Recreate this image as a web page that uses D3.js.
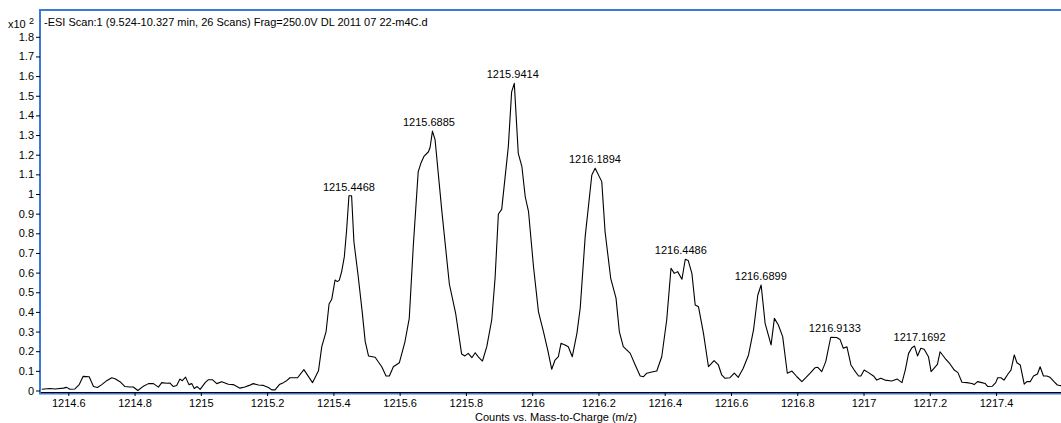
<!DOCTYPE html>
<html>
<head>
<meta charset="utf-8">
<script src="https://cdn.jsdelivr.net/npm/d3@7"></script>
<style>
  body { margin: 0; background: #fff; }
  text { font-family: "Liberation Sans", Arial, sans-serif; }
</style>
</head>
<body>
<script>
let w = 1061;
let h = 423;

// spectrum profile: m/z and counts (x10^2)
let mz = [1214.520,1214.545,1214.560,1214.585,1214.595,1214.605,1214.620,1214.633,1214.645,1214.663,
  1214.676,1214.688,1214.701,1214.716,1214.731,1214.741,1214.756,1214.771,1214.786,1214.796,
  1214.810,1214.825,1214.842,1214.857,1214.872,1214.882,1214.897,1214.907,1214.917,1214.927,
  1214.937,1214.944,1214.954,1214.964,1214.973,1214.980,1214.989,1214.998,1215.013,1215.023,
  1215.035,1215.048,1215.063,1215.083,1215.098,1215.118,1215.133,1215.146,1215.158,1215.174,
  1215.189,1215.204,1215.214,1215.224,1215.237,1215.249,1215.259,1215.269,1215.292,1215.311,
  1215.337,1215.355,1215.365,1215.378,1215.387,1215.395,1215.405,1215.412,1215.418,1215.425,
  1215.433,1215.440,1215.447,1215.455,1215.462,1215.475,1215.487,1215.496,1215.506,1215.526,
  1215.546,1215.559,1215.569,1215.581,1215.599,1215.616,1215.629,1215.641,1215.656,1215.664,
  1215.674,1215.687,1215.692,1215.699,1215.707,1215.727,1215.750,1215.769,1215.787,1215.797,
  1215.807,1215.818,1215.828,1215.838,1215.850,1215.863,1215.878,1215.888,1215.898,1215.908,
  1215.928,1215.938,1215.946,1215.958,1215.969,1215.979,1215.989,1216.004,1216.019,1216.034,
  1216.047,1216.059,1216.069,1216.079,1216.087,1216.099,1216.109,1216.121,1216.135,1216.145,
  1216.160,1216.180,1216.190,1216.210,1216.220,1216.237,1216.253,1216.263,1216.275,1216.296,
  1216.311,1216.326,1216.336,1216.346,1216.361,1216.376,1216.391,1216.406,1216.419,1216.429,
  1216.439,1216.452,1216.462,1216.471,1216.482,1216.492,1216.502,1216.517,1216.532,1216.549,
  1216.562,1216.572,1216.582,1216.597,1216.610,1216.622,1216.637,1216.653,1216.668,1216.681,
  1216.691,1216.703,1216.721,1216.731,1216.743,1216.756,1216.770,1216.784,1216.799,1216.814,
  1216.826,1216.839,1216.854,1216.862,1216.874,1216.886,1216.901,1216.919,1216.929,1216.939,
  1216.950,1216.962,1216.972,1216.985,1216.992,1217.002,1217.015,1217.030,1217.040,1217.052,
  1217.065,1217.085,1217.102,1217.116,1217.126,1217.136,1217.146,1217.154,1217.163,1217.173,
  1217.183,1217.196,1217.204,1217.223,1217.231,1217.246,1217.261,1217.274,1217.285,1217.297,
  1217.312,1217.327,1217.334,1217.344,1217.357,1217.367,1217.375,1217.389,1217.399,1217.405,
  1217.415,1217.424,1217.436,1217.445,1217.455,1217.463,1217.473,1217.485,1217.493,1217.503,
  1217.513,1217.525,1217.533,1217.543,1217.553,1217.563,1217.575,1217.585,1217.593,1217.602];

let counts = [0.006,0.010,0.008,0.012,0.016,0.006,0.008,0.030,0.072,0.070,
  0.020,0.015,0.030,0.050,0.065,0.060,0.045,0.020,0.018,0.018,
  0.000,0.020,0.035,0.035,0.017,0.040,0.037,0.038,0.020,0.025,
  0.058,0.050,0.068,0.030,0.035,0.010,0.020,0.006,0.040,0.055,
  0.055,0.035,0.045,0.032,0.030,0.012,0.018,0.026,0.035,0.028,
  0.026,0.015,0.003,0.003,0.030,0.040,0.050,0.065,0.065,0.106,
  0.040,0.100,0.223,0.300,0.440,0.464,0.562,0.554,0.562,0.605,
  0.680,0.817,0.991,0.991,0.757,0.580,0.400,0.250,0.176,0.169,
  0.121,0.074,0.074,0.121,0.141,0.248,0.367,0.730,1.113,1.156,
  1.193,1.215,1.238,1.320,1.275,0.919,0.542,0.393,0.186,0.176,
  0.189,0.167,0.192,0.170,0.150,0.223,0.360,0.571,0.898,0.922,
  1.241,1.520,1.563,1.207,1.139,0.986,0.910,0.630,0.400,0.300,
  0.206,0.108,0.155,0.172,0.240,0.232,0.223,0.172,0.291,0.420,
  0.783,1.097,1.131,1.063,0.808,0.571,0.470,0.300,0.223,0.189,
  0.130,0.074,0.070,0.088,0.094,0.099,0.172,0.359,0.622,0.596,
  0.605,0.566,0.668,0.661,0.596,0.435,0.426,0.291,0.121,0.152,
  0.130,0.079,0.062,0.065,0.088,0.067,0.113,0.181,0.308,0.486,
  0.537,0.342,0.232,0.367,0.333,0.274,0.088,0.099,0.070,0.045,
  0.065,0.088,0.116,0.118,0.096,0.147,0.271,0.270,0.260,0.215,
  0.222,0.130,0.104,0.074,0.074,0.104,0.091,0.074,0.053,0.062,
  0.053,0.048,0.058,0.040,0.104,0.189,0.218,0.226,0.176,0.215,
  0.210,0.172,0.096,0.133,0.197,0.164,0.135,0.104,0.091,0.042,
  0.040,0.036,0.030,0.045,0.040,0.036,0.020,0.022,0.040,0.065,
  0.065,0.053,0.084,0.104,0.181,0.141,0.130,0.032,0.045,0.045,
  0.074,0.084,0.121,0.074,0.074,0.067,0.045,0.028,0.025,0.025];

let peakLabels = ["1215.4468","1215.6885","1215.9414","1216.1894","1216.4486","1216.6899","1216.9133","1217.1692"];
let xTicks = [1214.6,1214.8,1215,1215.2,1215.4,1215.6,1215.8,1216,1216.2,1216.4,1216.6,1216.8,1217,1217.2,1217.4];
let yTicks = [0,0.1,0.2,0.3,0.4,0.5,0.6,0.7,0.8,0.9,1,1.1,1.2,1.3,1.4,1.5,1.6,1.7,1.8];

let data = mz.map((m, i) => ({m: m, v: counts[i]}));

let plotLeft = 41, plotRight = 1061, plotTop = 10, plotBottom = 392;

let x = d3.scaleLinear().domain([1214.5176, 1217.596]).range([plotLeft, plotRight]);
let y = d3.scaleLinear().domain([0, 1.8]).range([390.5, 36.8]);

let svg = d3.select("body")
            .append("svg")
            .attr("width", w)
            .attr("height", h);

svg.append("defs").append("clipPath").attr("id", "plot")
  .append("rect").attr("x", plotLeft).attr("y", plotTop)
  .attr("width", plotRight - plotLeft).attr("height", plotBottom - plotTop);

// blue frame around plot area
svg.append("rect")
  .attr("x", 40)
  .attr("y", 10)
  .attr("width", 1040)
  .attr("height", 383.5)
  .attr("fill", "none")
  .attr("stroke", "#3c78d8")
  .attr("stroke-width", 2);

// x axis
let xAxis = svg.append("g")
  .attr("transform", "translate(0," + plotBottom + ")")
  .call(d3.axisBottom(x).tickValues(xTicks).tickSize(4).tickPadding(3).tickFormat(d => +d.toFixed(1)));
xAxis.select(".domain").attr("stroke", "#000").attr("d", "M" + plotLeft + ",0.5H" + plotRight);
xAxis.selectAll("text").attr("font-size", 11).attr("fill", "#000").attr("font-family", "Liberation Sans, Arial, sans-serif");

// y axis
let yAxis = svg.append("g")
  .attr("transform", "translate(" + (plotLeft - 1) + ",0)")
  .call(d3.axisLeft(y).tickValues(yTicks).tickSize(4).tickPadding(2).tickFormat(d => +d.toFixed(1)));
yAxis.select(".domain").remove();
yAxis.selectAll("text").attr("font-size", 11).attr("fill", "#000").attr("font-family", "Liberation Sans, Arial, sans-serif");

// spectrum trace
let line = d3.line().x(d => x(d.m)).y(d => y(d.v));
svg.append("path")
  .datum(data)
  .attr("clip-path", "url(#plot)")
  .attr("d", line)
  .attr("fill", "none")
  .attr("stroke", "#000")
  .attr("stroke-width", 1.1)
  .attr("stroke-linejoin", "round");

// peak labels sit just above the local max
svg.selectAll(".peak")
  .data(peakLabels)
  .enter()
  .append("text")
    .attr("class", "peak")
    .attr("x", d => x(+d))
    .attr("y", d => {
      let near = data.filter(p => Math.abs(p.m - (+d)) < 0.02);
      return y(d3.max(near, p => p.v)) - 5;
    })
    .attr("text-anchor", "middle")
    .attr("font-size", 11)
    .text(d => d);

// title and exponent
svg.append("text")
  .attr("x", 44).attr("y", 26)
  .attr("font-size", 11)
  .text("-ESI Scan:1 (9.524-10.327 min, 26 Scans) Frag=250.0V DL 2011 07 22-m4C.d");

svg.append("text")
  .attr("x", 8).attr("y", 28)
  .attr("font-size", 11)
  .text("x10");
svg.append("text")
  .attr("x", 29).attr("y", 24)
  .attr("font-size", 9)
  .text("2");

svg.append("text")
  .attr("x", 556).attr("y", 421)
  .attr("text-anchor", "middle")
  .attr("font-size", 11)
  .text("Counts vs. Mass-to-Charge (m/z)");
</script>
</body>
</html>
